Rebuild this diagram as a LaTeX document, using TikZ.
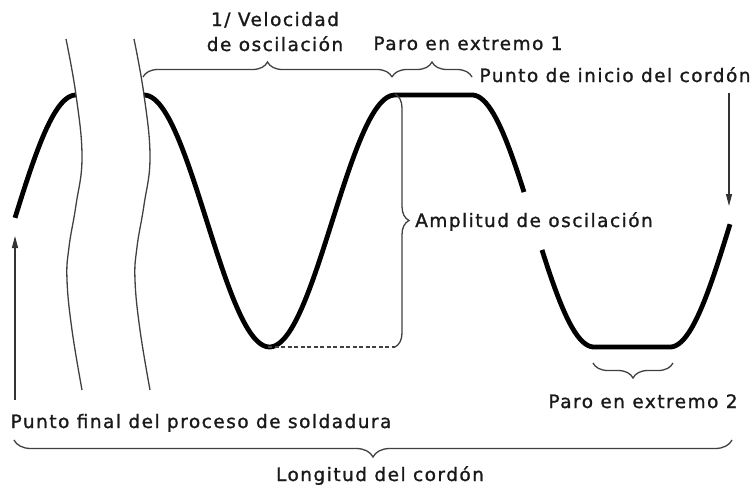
\documentclass[tikz,border=0pt]{standalone}
\usepackage{fontspec}
\setmainfont[LetterSpace=8,FakeBold=1.2]{DejaVu Sans}
\usetikzlibrary{arrows.meta,decorations.pathreplacing}
\begin{document}
\begin{tikzpicture}[x=1pt,y=-1pt,
  wave/.style={line width=4.8pt, line join=round},
  thinline/.style={line width=1.3pt, draw=black!75},
  lbl/.style={font=\fontsize{18.5}{20}\selectfont, inner sep=0pt, text=black!90, anchor=base},
  brc/.style={thinline, decorate, decoration={brace, amplitude=#1}},
  ptr/.style={line width=1.2pt, draw=black!80, -{Triangle[length=12pt,width=6pt]}}
]
\useasboundingbox (0,0) rectangle (755,488);

% wave
\draw[wave] plot[domain=15:76, samples=40] (\x, {221-126*cos(1.4516*(\x-76))});
\draw[wave] plot[domain=144:395, samples=100] (\x, {221-126*cos(1.4343*(\x-144))})
  -- (472,95) -- plot[domain=472:524, samples=30] (\x, {221-126*cos(1.4754*(\x-472))});
\draw[wave] plot[domain=542:594, samples=30] (\x, {221-126*cos(1.4754*(\x-472))})
  -- (670,347) -- plot[domain=670:730, samples=40] (\x, {221+126*cos(1.4754*(\x-670))});

% break lines
\draw[thinline] plot[smooth, tension=0.7] coordinates {(66,39) (76,95) (82,157) (76,205) (69,247) (67,280) (72,330) (82,390)};
\draw[thinline] plot[smooth, tension=0.7] coordinates {(134,39) (144,95) (150,157) (144,205) (137,247) (135,280) (140,330) (150,390)};

% named points
\coordinate (b1a) at (143,77);
\coordinate (b1b) at (392,77);
\coordinate (b2b) at (472,77);
\coordinate (amA) at (395,94);
\coordinate (amB) at (395,347);
\coordinate (trough) at (268,347);
\coordinate (p2a) at (673,363);
\coordinate (p2b) at (593,363);
\coordinate (lga) at (732,440);
\coordinate (lgb) at (14,440);
\coordinate (fa) at (15,400);
\coordinate (fb) at (15,236);
\coordinate (ia) at (729,93);
\coordinate (ib) at (729,206);

% braces
\draw[brc=15pt] (b1a) -- (b1b);
\draw[brc=15pt] (b1b) -- (b2b);
\draw[brc=14pt] (amA) -- (amB);
\draw[brc=15pt] (p2a) -- (p2b);
\draw[brc=17pt] (lga) -- (lgb);

% dashed
\draw[line width=1.3pt, draw=black!75, dash pattern=on 4pt off 2.5pt] (trough) -- (amB);

% arrows
\draw[ptr] (fa) -- (fb);
\draw[ptr] (ia) -- (ib);

% labels
\node[lbl] (vel1) at (275,26) {1/ Velocidad};
\node[lbl] (vel2) at (275,51) {de oscilación};
\node[lbl] (paro1) at (468,50) {Paro en extremo 1};
\node[lbl] (inicio) at (615,82) {Punto de inicio del cordón};
\node[lbl] (ampl) at (534,227) {Amplitud de oscilación};
\node[lbl] (paro2) at (643,408) {Paro en extremo 2};
\node[lbl] (final) at (201,428) {Punto final del proceso de soldadura};
\node[lbl] (long) at (380,481) {Longitud del cordón};
\end{tikzpicture}
\end{document}
